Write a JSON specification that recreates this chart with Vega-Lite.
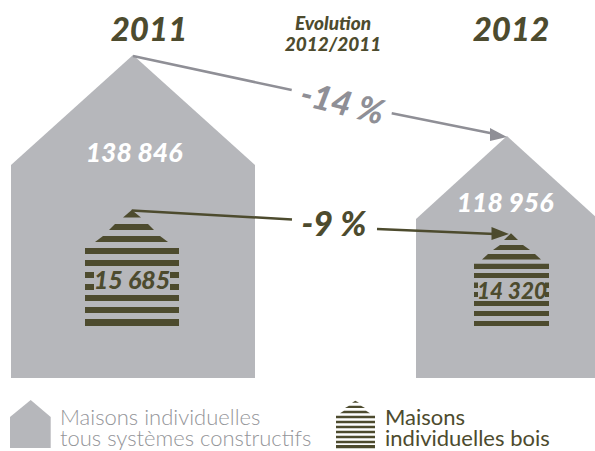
{
"$schema":"https://vega.github.io/schema/vega-lite/v6.json",
"width":595,"height":451,"padding":0,"autosize":{"type":"none"},
"background":"white",
"config":{"view":{"stroke":null}},
"datasets":{
"houses":[
{"s":"g1","series":"all","x":11,"y":165,"y2":378},{"s":"g1","series":"all","x":133,"y":55,"y2":378},{"s":"g1","series":"all","x":255,"y":165,"y2":378},
{"s":"g2","series":"all","x":416,"y":219,"y2":378},{"s":"g2","series":"all","x":507,"y":136,"y2":378},{"s":"g2","series":"all","x":598,"y":219,"y2":378},
{"s":"g3","series":"all","x":10,"y":417,"y2":448},{"s":"g3","series":"all","x":30.7,"y":400,"y2":448},{"s":"g3","series":"all","x":50.7,"y":417,"y2":448},
{"s":"a1","series":"wood","x":123,"y":217.5,"y2":217.5},{"s":"a1","series":"wood","x":131.7,"y":210,"y2":217.5},{"s":"a1","series":"wood","x":141,"y":217.5,"y2":217.5},
{"s":"a2","series":"wood","x":109,"y":230,"y2":230},{"s":"a2","series":"wood","x":115,"y":224,"y2":230},{"s":"a2","series":"wood","x":148,"y":224,"y2":230},{"s":"a2","series":"wood","x":154,"y":230,"y2":230},
{"s":"a3","series":"wood","x":95,"y":242,"y2":242},{"s":"a3","series":"wood","x":103,"y":236,"y2":242},{"s":"a3","series":"wood","x":160,"y":236,"y2":242},{"s":"a3","series":"wood","x":168,"y":242,"y2":242},
{"s":"a4","series":"wood","x":85,"y":248,"y2":254},{"s":"a4","series":"wood","x":179,"y":248,"y2":254},
{"s":"a5","series":"wood","x":85,"y":260,"y2":266},{"s":"a5","series":"wood","x":179,"y":260,"y2":266},
{"s":"a6l","series":"wood","x":85,"y":272,"y2":278},{"s":"a6l","series":"wood","x":94,"y":272,"y2":278},
{"s":"a6r","series":"wood","x":170,"y":272,"y2":278},{"s":"a6r","series":"wood","x":179,"y":272,"y2":278},
{"s":"a7l","series":"wood","x":85,"y":284,"y2":290},{"s":"a7l","series":"wood","x":94,"y":284,"y2":290},
{"s":"a7r","series":"wood","x":170,"y":284,"y2":290},{"s":"a7r","series":"wood","x":179,"y":284,"y2":290},
{"s":"a8","series":"wood","x":85,"y":295,"y2":301},{"s":"a8","series":"wood","x":179,"y":295,"y2":301},
{"s":"a9","series":"wood","x":85,"y":307,"y2":313},{"s":"a9","series":"wood","x":179,"y":307,"y2":313},
{"s":"a10","series":"wood","x":85,"y":319,"y2":326},{"s":"a10","series":"wood","x":179,"y":319,"y2":326},
{"s":"b1","series":"wood","x":504,"y":240,"y2":240},{"s":"b1","series":"wood","x":511,"y":233.3,"y2":240},{"s":"b1","series":"wood","x":518,"y":240,"y2":240},
{"s":"b2","series":"wood","x":493,"y":250,"y2":250},{"s":"b2","series":"wood","x":500,"y":245,"y2":250},{"s":"b2","series":"wood","x":523,"y":245,"y2":250},{"s":"b2","series":"wood","x":530,"y":250,"y2":250},
{"s":"b3","series":"wood","x":482,"y":259.5,"y2":259.5},{"s":"b3","series":"wood","x":488,"y":254,"y2":259.5},{"s":"b3","series":"wood","x":535,"y":254,"y2":259.5},{"s":"b3","series":"wood","x":541,"y":259.5,"y2":259.5},
{"s":"b4","series":"wood","x":474,"y":263.7,"y2":269},{"s":"b4","series":"wood","x":549,"y":263.7,"y2":269},
{"s":"b5","series":"wood","x":474,"y":273,"y2":278},{"s":"b5","series":"wood","x":549,"y":273,"y2":278},
{"s":"b6l","series":"wood","x":474,"y":282.5,"y2":288},{"s":"b6l","series":"wood","x":478,"y":282.5,"y2":288},
{"s":"b6r","series":"wood","x":545,"y":282.5,"y2":288},{"s":"b6r","series":"wood","x":549,"y":282.5,"y2":288},
{"s":"b7l","series":"wood","x":474,"y":292,"y2":297},{"s":"b7l","series":"wood","x":478,"y":292,"y2":297},
{"s":"b7r","series":"wood","x":545,"y":292,"y2":297},{"s":"b7r","series":"wood","x":549,"y":292,"y2":297},
{"s":"b8","series":"wood","x":474,"y":301,"y2":306},{"s":"b8","series":"wood","x":549,"y":301,"y2":306},
{"s":"b9","series":"wood","x":474,"y":311,"y2":316},{"s":"b9","series":"wood","x":549,"y":311,"y2":316},
{"s":"b10","series":"wood","x":474,"y":321,"y2":326},{"s":"b10","series":"wood","x":549,"y":321,"y2":326},
{"s":"c1","series":"wood","x":352,"y":402.7,"y2":402.7},{"s":"c1","series":"wood","x":355.3,"y":400.7,"y2":402.7},{"s":"c1","series":"wood","x":359,"y":402.7,"y2":402.7},
{"s":"c2","series":"wood","x":345,"y":408,"y2":408},{"s":"c2","series":"wood","x":349,"y":405.7,"y2":408},{"s":"c2","series":"wood","x":361,"y":405.7,"y2":408},{"s":"c2","series":"wood","x":365,"y":408,"y2":408},
{"s":"c3","series":"wood","x":340,"y":413.3,"y2":413.3},{"s":"c3","series":"wood","x":344,"y":410.7,"y2":413.3},{"s":"c3","series":"wood","x":366,"y":410.7,"y2":413.3},{"s":"c3","series":"wood","x":370,"y":413.3,"y2":413.3},
{"s":"c4","series":"wood","x":336,"y":415.7,"y2":418.3},{"s":"c4","series":"wood","x":375,"y":415.7,"y2":418.3},
{"s":"c5","series":"wood","x":336,"y":420.7,"y2":423.3},{"s":"c5","series":"wood","x":375,"y":420.7,"y2":423.3},
{"s":"c6","series":"wood","x":336,"y":425.7,"y2":428.3},{"s":"c6","series":"wood","x":375,"y":425.7,"y2":428.3},
{"s":"c7","series":"wood","x":336,"y":430.7,"y2":433.3},{"s":"c7","series":"wood","x":375,"y":430.7,"y2":433.3},
{"s":"c8","series":"wood","x":336,"y":435.7,"y2":438.3},{"s":"c8","series":"wood","x":375,"y":435.7,"y2":438.3},
{"s":"c9","series":"wood","x":336,"y":440.7,"y2":443.3},{"s":"c9","series":"wood","x":375,"y":440.7,"y2":443.3},
{"s":"c10","series":"wood","x":336,"y":445,"y2":448.3},{"s":"c10","series":"wood","x":375,"y":445,"y2":448.3},
{"s":"h1","series":"arrowAll","x":490,"y":128,"y2":141},{"s":"h1","series":"arrowAll","x":507,"y":137,"y2":137},
{"s":"h2","series":"arrowWood","x":491.5,"y":227,"y2":240},{"s":"h2","series":"arrowWood","x":509,"y":234,"y2":234}
],
"arrows":[
{"s":"l1","series":"arrowAll","x":133,"y":56},{"s":"l1","series":"arrowAll","x":291.7,"y":90},
{"s":"l2","series":"arrowAll","x":391.7,"y":113.3},{"s":"l2","series":"arrowAll","x":495,"y":134},
{"s":"l3","series":"arrowWood","x":131.7,"y":210.5},{"s":"l3","series":"arrowWood","x":292,"y":219.5},
{"s":"l4","series":"arrowWood","x":377,"y":229},{"s":"l4","series":"arrowWood","x":495,"y":234}
],
"years":[{"t":"2011","x":149,"y":31},{"t":"2012","x":511,"y":31}],
"evol":[{"t":"Evolution","x":333,"y":24},{"t":"2012/2011","x":333,"y":45}],
"pct14":[{"t":"-14 %","x":342,"y":105}],
"pct9":[{"t":"-9 %","x":334,"y":226}],
"totals":[{"t":"138 846","x":134,"y":154},{"t":"118 956","x":505,"y":204}],
"woodA":[{"t":"15 685","x":132,"y":281}],
"woodB":[{"t":"14 320","x":512,"y":292}],
"legG":[{"t":"Maisons individuelles|tous systèmes constructifs","x":60,"y":408}],
"legW":[{"t":"Maisons|individuelles bois","x":385,"y":408}]
},
"encoding":{
"x":{"field":"x","type":"quantitative","scale":{"domain":[0,595],"nice":false,"zero":false},"axis":null},
"y":{"field":"y","type":"quantitative","scale":{"domain":[0,451],"reverse":true,"nice":false,"zero":false},"axis":null}
},
"layer":[
{"data":{"name":"houses"},"mark":{"type":"area","clip":true},"encoding":{
 "y2":{"field":"y2"},"detail":{"field":"s"},
 "color":{"field":"series","type":"nominal","legend":null,"scale":{"domain":["all","wood","arrowAll","arrowWood"],"range":["#b6b7bb","#4d4b2e","#8f8f96","#4d4b2e"]}}}},
{"data":{"name":"arrows"},"mark":{"type":"line","strokeWidth":2.5},"encoding":{
 "detail":{"field":"s"},
 "color":{"field":"series","type":"nominal","legend":null}}},
{"data":{"name":"years"},"mark":{"type":"text","font":"Lato","fontWeight":900,"fontStyle":"italic","fontSize":33,"color":"#4d4b2e","align":"center","baseline":"middle"},"encoding":{"text":{"field":"t"}}},
{"data":{"name":"evol"},"mark":{"type":"text","font":"Lato","fontWeight":900,"fontStyle":"italic","fontSize":19,"color":"#4d4b2e","align":"center","baseline":"middle"},"encoding":{"text":{"field":"t"}}},
{"data":{"name":"pct14"},"mark":{"type":"text","font":"Lato","fontWeight":900,"fontStyle":"italic","fontSize":34,"color":"#8f8f96","align":"center","baseline":"middle","angle":14},"encoding":{"text":{"field":"t"}}},
{"data":{"name":"pct9"},"mark":{"type":"text","font":"Lato","fontWeight":900,"fontStyle":"italic","fontSize":34,"color":"#4d4b2e","align":"center","baseline":"middle"},"encoding":{"text":{"field":"t"}}},
{"data":{"name":"totals"},"mark":{"type":"text","font":"Lato","fontWeight":900,"fontStyle":"italic","fontSize":26.5,"color":"white","align":"center","baseline":"middle"},"encoding":{"text":{"field":"t"}}},
{"data":{"name":"woodA"},"mark":{"type":"text","font":"Lato","fontWeight":900,"fontStyle":"italic","fontSize":25,"color":"#4d4b2e","align":"center","baseline":"middle"},"encoding":{"text":{"field":"t"}}},
{"data":{"name":"woodB"},"mark":{"type":"text","font":"Lato","fontWeight":900,"fontStyle":"italic","fontSize":22.5,"color":"#4d4b2e","align":"center","baseline":"middle"},"encoding":{"text":{"field":"t"}}},
{"data":{"name":"legG"},"mark":{"type":"text","font":"Lato","fontWeight":300,"fontSize":22,"lineBreak":"|","lineHeight":21,"color":"#949599","align":"left","baseline":"top"},"encoding":{"text":{"field":"t"}}},
{"data":{"name":"legW"},"mark":{"type":"text","font":"Lato","fontWeight":"normal","fontSize":22,"lineBreak":"|","lineHeight":21,"color":"#4d4b2e","align":"left","baseline":"top"},"encoding":{"text":{"field":"t"}}}
]
}
